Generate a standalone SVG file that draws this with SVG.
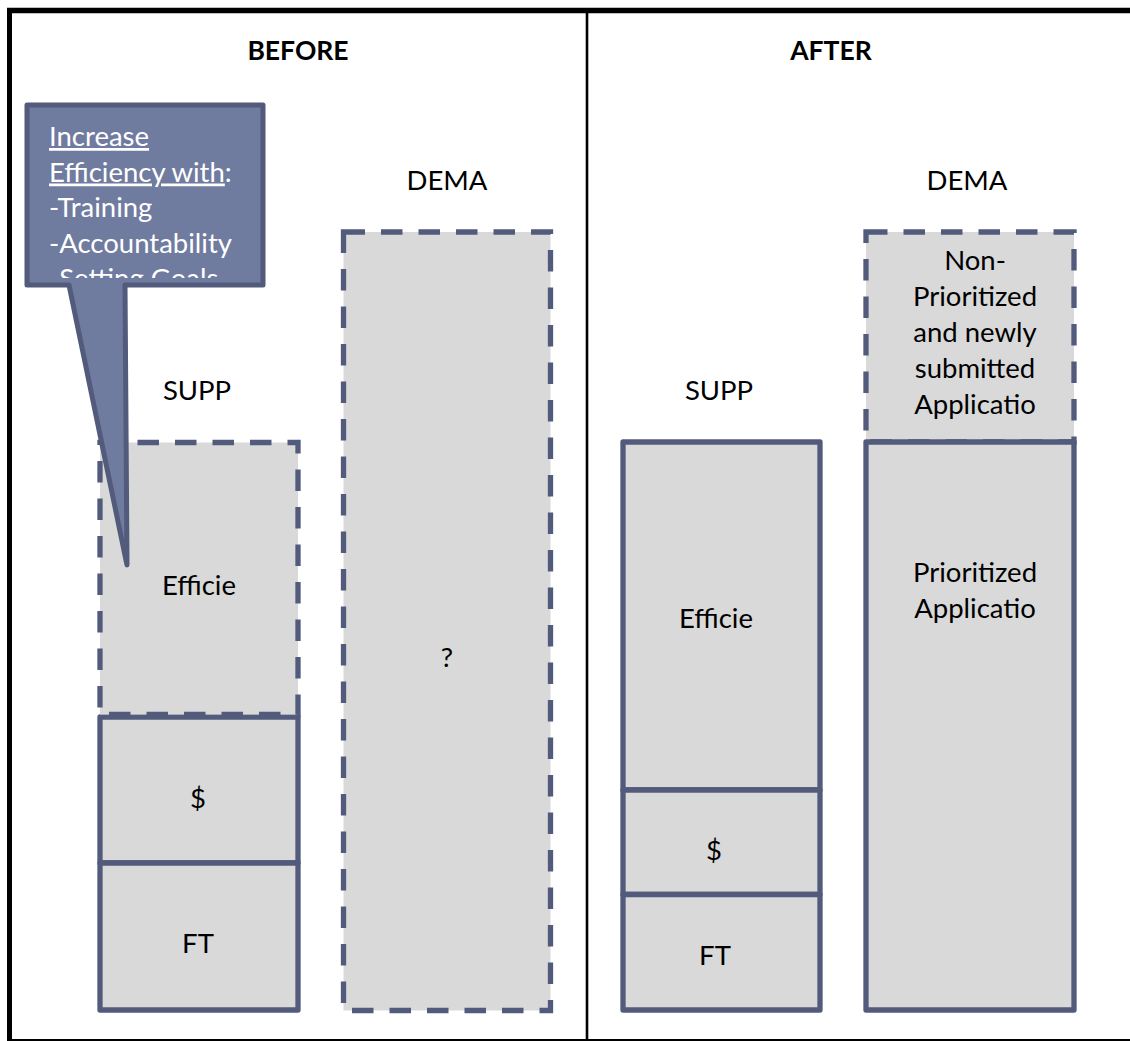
<svg xmlns="http://www.w3.org/2000/svg" width="1130" height="1041" viewBox="0 0 1130 1041">
<style>
.bx{fill:#D9D9D9;stroke:#525B7B;stroke-width:5.3;stroke-linejoin:round}
.dash{fill:#D9D9D9;stroke:#525B7B;stroke-width:5.3;stroke-dasharray:21.5 16}
.t{font-family:Lato,"Liberation Sans",sans-serif;font-size:27.5px;fill:#000;text-anchor:middle}
.h{font-family:Lato,"Liberation Sans",sans-serif;font-size:26.5px;font-weight:bold;fill:#000;text-anchor:middle}
.ct{font-family:Lato,"Liberation Sans",sans-serif;font-size:27.5px;fill:#FFFFFF}
.u{text-decoration:underline}
</style>
<defs>
<clipPath id="cclip"><rect x="29" y="107" width="232" height="171"/></clipPath>
</defs>
<rect width="1130" height="1041" fill="#FFFFFF"/>
<g id="frame">
<line x1="7" y1="10.5" x2="1130" y2="10.5" stroke="#000" stroke-width="5.3"/>
<line x1="9.5" y1="8" x2="9.5" y2="1041" stroke="#000" stroke-width="5"/>
<line x1="7" y1="1040" x2="1130" y2="1040" stroke="#000" stroke-width="2"/>
<line x1="587" y1="13" x2="587" y2="1040" stroke="#000" stroke-width="2.6"/>
</g>
<g id="titles">
<text class="h" x="298" y="60">BEFORE</text>
<text class="h" x="831" y="60">AFTER</text>
</g>
<g id="before-demand">
<text class="t" x="447" y="190">DEMA</text>
<path class="dash" d="M343.5,232 H550.5 V1010.5 H343.5 Z"/>
<text class="t" x="447" y="667">?</text>
</g>
<g id="before-supply">
<text class="t" x="197" y="400">SUPP</text>
<rect id="before-dollar" class="bx" x="100" y="717" width="198" height="146"/>
<text class="t" x="198" y="808">$</text>
<rect id="before-ft" class="bx" x="100" y="863" width="198" height="147"/>
<text class="t" x="198" y="953">FT</text>
<path id="before-eff" class="dash" d="M100,442.5 H298 V714.5 H100 Z"/>
<text class="t" x="199" y="595">Efficie</text>
</g>
<g id="after-supply">
<text class="t" x="719" y="400">SUPP</text>
<rect id="after-eff" class="bx" x="623" y="442" width="197" height="348"/>
<text class="t" x="716" y="628">Efficie</text>
<rect id="after-dollar" class="bx" x="623" y="790" width="197" height="104.5"/>
<text class="t" x="714" y="860">$</text>
<rect id="after-ft" class="bx" x="623" y="894.5" width="197" height="115.5"/>
<text class="t" x="715" y="965">FT</text>
</g>
<g id="after-demand">
<text class="t" x="967" y="190">DEMA</text>
<path id="after-nonprio" class="dash" d="M866,232 H1074 V442 H866 Z"/>
<text class="t" x="975" y="270">Non-</text>
<text class="t" x="975" y="306">Prioritized</text>
<text class="t" x="975" y="342">and newly</text>
<text class="t" x="975" y="378">submitted</text>
<text class="t" x="975" y="414">Applicatio</text>
<rect id="after-prio" class="bx" x="866" y="442" width="208" height="568"/>
<text class="t" x="975" y="582">Prioritized</text>
<text class="t" x="975" y="618">Applicatio</text>
</g>
<g id="callout">
<path d="M27,105 H263 V285 H125 L127,565 L69,285 H27 Z" fill="#707BA0" stroke="#525B7B" stroke-width="5" stroke-linejoin="round"/>
<g clip-path="url(#cclip)">
<text class="ct" x="49" y="146"><tspan class="u">Increase</tspan></text>
<text class="ct" x="49" y="181.5"><tspan class="u">Efficiency with</tspan>:</text>
<text class="ct" x="49" y="217">-Training</text>
<text class="ct" x="49" y="252.5">-Accountability</text>
<text class="ct" x="49" y="288">-Setting Goals</text>
</g>
</g>
</svg>
